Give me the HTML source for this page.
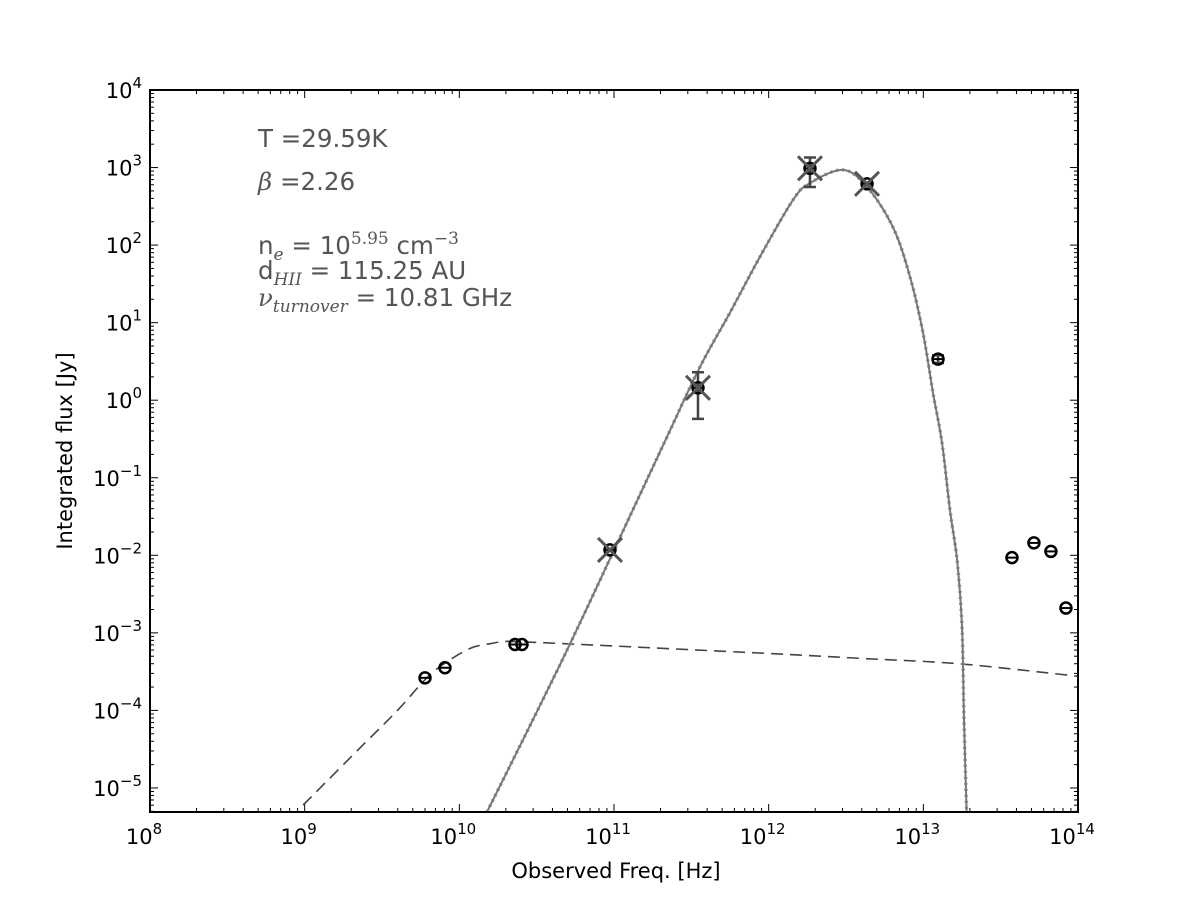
<!DOCTYPE html>
<html><head><meta charset="utf-8"><style>
body{margin:0;background:#fff;}
svg{display:block;font-family:"DejaVu Sans","Liberation Sans",sans-serif;}
</style></head><body>
<svg id="chart" width="1200" height="906">
<rect width="1200" height="906" fill="#fff"/>
<g id="plot"></g>
<g id="ann" fill="#555" font-size="24.5">
<text x="258" y="147">T =29.59K</text>
<text x="258" y="190"><tspan font-family="DejaVu Serif" font-style="italic">β</tspan> =2.26</text>
<text x="258" y="254">n<tspan font-size="17" font-family="DejaVu Serif" font-style="italic" dy="6">e</tspan><tspan dy="-6"> = 10</tspan><tspan font-size="17" font-family="DejaVu Serif" dy="-10">5.95</tspan><tspan dy="10">  cm</tspan><tspan font-size="17" font-family="DejaVu Serif" dy="-10">−3</tspan></text>
<text x="258" y="279">d<tspan font-size="17" font-family="DejaVu Serif" font-style="italic" dy="6">HII</tspan><tspan dy="-6"> = 115.25 AU</tspan></text>
<text x="258" y="306"><tspan font-family="DejaVu Serif" font-style="italic">ν</tspan><tspan font-size="17" font-family="DejaVu Serif" font-style="italic" dy="6">turnover</tspan><tspan dy="-6"> = 10.81 GHz</tspan></text>
</g>
<text x="616" y="878" text-anchor="middle" font-size="21">Observed Freq. [Hz]</text>
<text transform="translate(72,451) rotate(-90)" text-anchor="middle" font-size="21">Integrated flux [Jy]</text>
</svg>
<script>
// data (log10 values)
const xTicks=[8,9,10,11,12,13,14];
const yTicks=[-5,-4,-3,-2,-1,0,1,2,3,4];
const greyLogNu=[10.179,10.651,10.987,11.343,11.556,11.75,11.944,12.157,12.267,12.48,12.636,12.804,12.914,12.998,13.062,13.121,13.172,13.218,13.25,13.263,13.28];
const greyLogF=[-5.31,-3.41,-1.99,-0.47,0.43,1.13,1.85,2.58,2.80,2.97,2.75,2.23,1.59,0.87,0.10,-0.55,-1.41,-2.06,-2.92,-4.12,-5.31];
const hiiLogNu=[8.99,9.4,9.6,9.78,9.9,10.07,10.2,10.3,10.46,11.0,11.94,12.6,13.24,14.0];
const hiiLogF=[-5.22,-4.4,-4.0,-3.6,-3.4,-3.2,-3.14,-3.11,-3.12,-3.17,-3.26,-3.33,-3.4,-3.56];
const ptLogNu=[9.778,9.907,10.36,10.405,10.974,11.543,12.267,12.636,13.095,13.573,13.715,13.825,13.922];
const ptLogF=[-3.58,-3.45,-3.15,-3.15,-1.93,0.16,2.99,2.79,0.53,-2.03,-1.84,-1.95,-2.68];
const fitIdx=[4,5,6,7];
const errUp=[0,0,0,0,0,0.2,0.14,0,0.05,0,0,0,0];
const errDn=[0,0,0,0,0,0.4,0.24,0,0.05,0,0,0,0];

const L=150,R=1078,T=90,B=812;
const xMin=8,xMax=14,yMin=-5.31,yMax=4;
const X=v=>L+(v-xMin)/(xMax-xMin)*(R-L);
const Y=v=>B-(v-yMin)/(yMax-yMin)*(B-T);
const NS="http://www.w3.org/2000/svg";
const g=document.getElementById('plot');
function mk(t,a,p){const e=document.createElementNS(NS,t);for(const k in a)e.setAttribute(k,a[k]);(p||g).appendChild(e);return e;}
const defs=mk('clipPath',{id:'clip'});mk('rect',{x:L,y:T,width:R-L,height:B-T},defs);

for(let d=8;d<14;d++)for(let m=1;m<10;m++){const x=X(d+Math.log10(m));const len=m==1?8:4;
 const a=mk('line',{x1:x,x2:x,y1:B,y2:B-len,stroke:'#000'});
 const b=mk('line',{x1:x,x2:x,y1:T,y2:T+len,stroke:'#000'});}
for(let d=-6;d<4;d++)for(let m=1;m<10;m++){const v=d+Math.log10(m);if(v<yMin||v>yMax)continue;const y=Y(v);const len=m==1?8:4;
 const a=mk('line',{x1:L,x2:L+len,y1:y,y2:y,stroke:'#000'});
 const b=mk('line',{x1:R,x2:R-len,y1:y,y2:y,stroke:'#000'});}
xTicks.forEach(v=>{const t=mk('text',{x:X(v)-6,y:B+32,'text-anchor':'middle','font-size':21});t.innerHTML='10<tspan font-size="15" dy="-10">'+v+'</tspan>';
 });
yTicks.forEach(v=>{const t=mk('text',{x:L-8,y:Y(v)+8,'text-anchor':'end','font-size':21});t.innerHTML='10<tspan font-size="15" dy="-10">'+(v<0?'−'+(-v):v)+'</tspan>';
 });

function path(xs,ys){const p=xs.map((v,i)=>[X(v),Y(ys[i])]);let d='M'+p[0][0].toFixed(1)+','+p[0][1].toFixed(1);
 for(let i=0;i<p.length-1;i++){const p0=p[i-1]||p[i],p1=p[i],p2=p[i+1],p3=p[i+2]||p2;
  const c1=[p1[0]+(p2[0]-p0[0])/6,p1[1]+(p2[1]-p0[1])/6],c2=[p2[0]-(p3[0]-p1[0])/6,p2[1]-(p3[1]-p1[1])/6];
  d+='C'+c1.map(n=>n.toFixed(1))+' '+c2.map(n=>n.toFixed(1))+' '+p2.map(n=>n.toFixed(1));}
 return d;}
const cg=mk('g',{'clip-path':'url(#clip)'});
const d1=mk('path',{d:path(hiiLogNu,hiiLogF),fill:'none',stroke:'#444','stroke-width':1.6,'stroke-dasharray':'12,7'},cg);

const d2=mk('path',{d:path(greyLogNu,greyLogF),fill:'none',stroke:'#999','stroke-width':3.5,'stroke-dasharray':'2,4'},cg);

const d3=mk('path',{d:path(greyLogNu,greyLogF),fill:'none',stroke:'#777','stroke-width':2},cg);


ptLogNu.forEach((v,i)=>{const x=X(v),y=Y(ptLogF[i]);
 if(errUp[i]||errDn[i]){const e=mk('path',{d:`M${x},${Y(ptLogF[i]+errUp[i])}V${Y(ptLogF[i]-errDn[i])}M${x-6},${Y(ptLogF[i]+errUp[i])}h12M${x-6},${Y(ptLogF[i]-errDn[i])}h12`,stroke:'#444','stroke-width':2.5,fill:'none'});
  }
 const c=mk('ellipse',{cx:x,cy:y,rx:5.5,ry:5.5,fill:'none',stroke:'#000','stroke-width':2.5});
 
 const l=mk('line',{x1:x-5,x2:x+5,y1:y,y2:y,stroke:'#000','stroke-width':2});
 
 if(fitIdx.includes(i)){const m=mk('path',{d:`M${x-12},${y-12}L${x+12},${y+12}M${x-12},${y+12}L${x+12},${y-12}`,stroke:'#555','stroke-width':3});
  }
});
const fr=mk('rect',{x:L,y:T,width:R-L,height:B-T,fill:'none',stroke:'#000','stroke-width':2});

</script>
</body></html>
